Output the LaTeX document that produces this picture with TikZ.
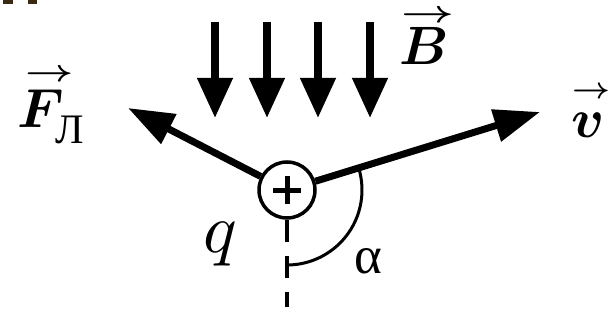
\documentclass[tikz,border=0pt]{standalone}
\usepackage{amsmath,amsbsy}
\usepackage{fontspec}
\newfontfamily\lserif{Liberation Serif}
\usetikzlibrary{arrows.meta}
\definecolor{markbrown}{HTML}{3B2A12}
\tikzset{
  fieldarrow/.style={line width=7.5pt,-{Triangle[length=40pt,width=34pt]}},
  vecarrow/.style={line width=7pt,-{Triangle[length=46pt,width=32pt]}},
  lbl/.style={inner sep=0pt,anchor=base},
  vecmark/.style={inner sep=0pt,anchor=center}
}
\begin{document}
\begin{tikzpicture}[x=1pt,y=-1pt]
\useasboundingbox (0,0) rectangle (608,321);
\fill[markbrown] (3,0) rectangle (13,4);
\fill[markbrown] (28,0) rectangle (37,4);
% charge
\node[circle,draw,line width=3.5pt,minimum size=56pt,inner sep=0pt] (q) at (287,190) {};
\draw[line width=5pt] (273,190) -- (301,190) (287,176) -- (287,204);
% magnetic field arrows
\foreach \x [count=\i] in {215,267,318,370}{
  \coordinate (bt\i) at (\x,22);
  \coordinate (bb\i) at (\x,118);
  \draw[fieldarrow] (bt\i) -- (bb\i);
}
% velocity and force
\coordinate (vt) at (540,112);
\coordinate (ft) at (128,108);
\draw[vecarrow] (q) -- (vt);
\draw[vecarrow] (q) -- (ft);
% dashed vertical
\coordinate (dl) at (287,307);
\draw[line width=4pt,dash pattern=on 22pt off 14pt] (q.south) -- (dl);
% angle arc
\draw[line width=3pt] (q.center) ++(-17:75) arc[start angle=-17,end angle=90,radius=75];
% labels
\node[lbl,scale=5.4] (lB) at (424,65) {$\boldsymbol{B}$};
\node[vecmark,xscale=4.6,yscale=3.1] (aB) at (428,16) {$\boldsymbol{\rightarrow}$};
\node[lbl,scale=5.5] (lF) at (41,128) {$\boldsymbol{F}$};
\node[vecmark,xscale=4.2,yscale=3.1] (aF) at (50,75) {$\boldsymbol{\rightarrow}$};
\node[lbl,scale=4.2] (lL) at (70,143) {\lserif Л};
\node[lbl,scale=5.5] (lv) at (588,137) {$\boldsymbol{v}$};
\node[vecmark,xscale=3.3,yscale=3.0] (av) at (591,93) {$\boldsymbol{\rightarrow}$};
\node[lbl,scale=7] (lq) at (220,252) {$q$};
\node[lbl,scale=5.3] (la) at (368,273) {\lserif α};
\end{tikzpicture}
\end{document}
